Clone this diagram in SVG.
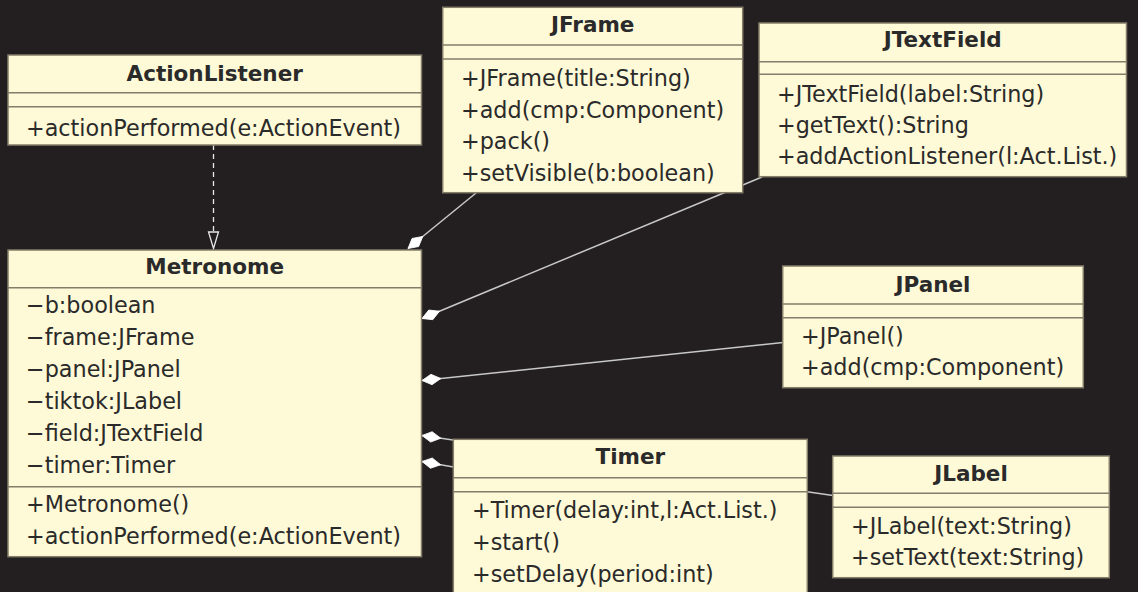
<svg xmlns="http://www.w3.org/2000/svg" width="1138" height="592" viewBox="0 0 1138 592">
  <style>
    .box { fill: #fef9d6; stroke: #847d6a; stroke-width: 1.5; }
    .sep { stroke: #847d6a; stroke-width: 1.5; }
    .title { font-family: "DejaVu Sans", "Liberation Sans", sans-serif; font-weight: bold; font-size: 21.5px; fill: #2a2a2a; text-anchor: middle; }
    .member { font-family: "DejaVu Sans", "Liberation Sans", sans-serif; font-size: 22.3px; fill: #2a2a2a; }
    .link { stroke: #c8c8c8; stroke-width: 1.5; fill: none; }
    .dash { stroke: #e8e8e8; stroke-width: 1.3; fill: none; stroke-dasharray: 5 4; }
  </style>
  <defs>
    <!-- white diamond drawn at the whole end of a part/whole association -->
    <marker id="diamond" markerUnits="userSpaceOnUse" markerWidth="22" markerHeight="14" refX="0" refY="7" orient="auto" overflow="visible">
      <path d="M0,7 L9.5,1.8 L19,7 L9.5,12.2 Z" fill="#ffffff" stroke="#ffffff" stroke-width="0.8" stroke-linejoin="round"/>
    </marker>
  </defs>

  <rect x="0" y="0" width="1138" height="592" fill="#231f20"/>

  <!-- connectors -->
  <g id="connectors">
    <!-- Metronome realizes ActionListener -->
    <line class="dash" x1="213.5" y1="145" x2="213.5" y2="232"/>
    <polygon points="208.5,232 218.5,232 213.5,248.5" fill="#231f20" stroke="#e8e8e8" stroke-width="1.3"/>
    <!-- Metronome aggregates its Swing parts -->
    <line class="link" x1="408" y1="248.5" x2="476" y2="193" marker-start="url(#diamond)"/>
    <line class="link" x1="422" y1="318.5" x2="762" y2="177" marker-start="url(#diamond)"/>
    <line class="link" x1="422" y1="380.5" x2="783" y2="342.5" marker-start="url(#diamond)"/>
    <line class="link" x1="422" y1="435.5" x2="833" y2="495.5" marker-start="url(#diamond)"/>
    <line class="link" x1="422" y1="461.5" x2="453.5" y2="467" marker-start="url(#diamond)"/>
  </g>

  <!-- ActionListener -->
  <g id="ActionListener">
    <rect class="box" x="8" y="55" width="413.5" height="90"/>
    <line class="sep" x1="8" y1="92.7" x2="421.5" y2="92.7"/>
    <line class="sep" x1="8" y1="106.7" x2="421.5" y2="106.7"/>
    <text class="title" x="214.7" y="80.5">ActionListener</text>
    <text class="member" x="26" y="135.5">+actionPerformed(e:ActionEvent)</text>
  </g>

  <!-- Metronome -->
  <g id="Metronome">
    <rect class="box" x="8" y="250" width="413.5" height="306.7"/>
    <line class="sep" x1="8" y1="287.7" x2="421.5" y2="287.7"/>
    <line class="sep" x1="8" y1="486.7" x2="421.5" y2="486.7"/>
    <text class="title" x="214.7" y="273.5">Metronome</text>
    <text class="member" x="26" y="312.7">−b:boolean</text>
    <text class="member" x="26" y="344.7">−frame:JFrame</text>
    <text class="member" x="26" y="376.7">−panel:JPanel</text>
    <text class="member" x="26" y="408.7">−tiktok:JLabel</text>
    <text class="member" x="26" y="440.7">−field:JTextField</text>
    <text class="member" x="26" y="472.7">−timer:Timer</text>
    <text class="member" x="26" y="511.7">+Metronome()</text>
    <text class="member" x="26" y="543.7">+actionPerformed(e:ActionEvent)</text>
  </g>

  <!-- JFrame -->
  <g id="JFrame">
    <rect class="box" x="442.7" y="7.3" width="300" height="185.4"/>
    <line class="sep" x1="442.7" y1="45" x2="742.7" y2="45"/>
    <line class="sep" x1="442.7" y1="59" x2="742.7" y2="59"/>
    <text class="title" x="592.7" y="31.7">JFrame</text>
    <text class="member" x="461" y="86">+JFrame(title:String)</text>
    <text class="member" x="461" y="117.5">+add(cmp:Component)</text>
    <text class="member" x="461" y="149">+pack()</text>
    <text class="member" x="461" y="180.5">+setVisible(b:boolean)</text>
  </g>

  <!-- JTextField -->
  <g id="JTextField">
    <rect class="box" x="759" y="23" width="367.5" height="153.7"/>
    <line class="sep" x1="759" y1="61.7" x2="1126.5" y2="61.7"/>
    <line class="sep" x1="759" y1="74.3" x2="1126.5" y2="74.3"/>
    <text class="title" x="942.7" y="47">JTextField</text>
    <text class="member" x="777" y="101.7">+JTextField(label:String)</text>
    <text class="member" x="777" y="132.9">+getText():String</text>
    <text class="member" x="777" y="164.2">+addActionListener(l:Act.List.)</text>
  </g>

  <!-- JPanel -->
  <g id="JPanel">
    <rect class="box" x="782.7" y="266" width="300.6" height="121.7"/>
    <line class="sep" x1="782.7" y1="304" x2="1083.3" y2="304"/>
    <line class="sep" x1="782.7" y1="317.7" x2="1083.3" y2="317.7"/>
    <text class="title" x="933" y="291.7">JPanel</text>
    <text class="member" x="801" y="344">+JPanel()</text>
    <text class="member" x="801" y="375.3">+add(cmp:Component)</text>
  </g>

  <!-- Timer -->
  <g id="Timer">
    <rect class="box" x="453.3" y="439.3" width="354" height="170"/>
    <line class="sep" x1="453.3" y1="477.7" x2="807.3" y2="477.7"/>
    <line class="sep" x1="453.3" y1="491.7" x2="807.3" y2="491.7"/>
    <text class="title" x="630.3" y="464.3">Timer</text>
    <text class="member" x="472" y="518">+Timer(delay:int,l:Act.List.)</text>
    <text class="member" x="472" y="550">+start()</text>
    <text class="member" x="472" y="582">+setDelay(period:int)</text>
  </g>

  <!-- JLabel -->
  <g id="JLabel">
    <rect class="box" x="832.7" y="456" width="276.6" height="121.7"/>
    <line class="sep" x1="832.7" y1="493.3" x2="1109.3" y2="493.3"/>
    <line class="sep" x1="832.7" y1="507.3" x2="1109.3" y2="507.3"/>
    <text class="title" x="971" y="480.7">JLabel</text>
    <text class="member" x="851" y="534">+JLabel(text:String)</text>
    <text class="member" x="851" y="565.3">+setText(text:String)</text>
  </g>
</svg>
